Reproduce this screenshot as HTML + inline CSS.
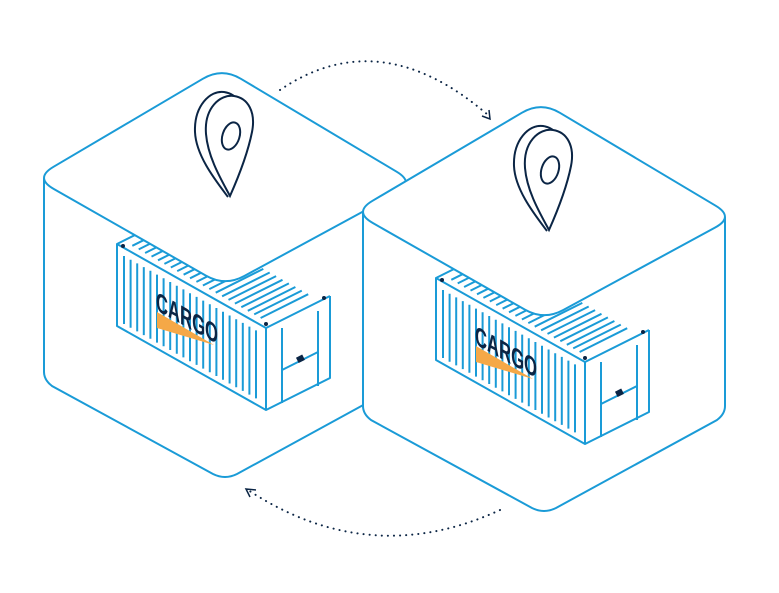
<!DOCTYPE html>
<html><head><meta charset="utf-8"><style>html,body{margin:0;padding:0;background:#fff}svg{display:block}</style></head>
<body>
<svg width="779" height="593" viewBox="0 0 779 593" xmlns="http://www.w3.org/2000/svg">
<defs>
<g id="cube">
  <path d="M203,78.7 Q222,67.5 240.9,78.8 L396.6,171.7 Q410,178 406,190 L406,372 Q406,380 398,386 L237,474 Q225,480 213,474 L52,386 Q44,380 44,372 L44,190 Q40,175 53.5,166.8 Z" fill="#fff" stroke="none"/>
  <path d="M44,178 L44,372 Q44,380 52,386 L213,474 Q225,480 237,474 L398,386 Q406,380 406,372 L406,183" fill="none" stroke="#1a9bd7" stroke-width="2"/>
  <g stroke="#1a9bd7" stroke-width="2" fill="none" stroke-linejoin="round">
    <path d="M181,212 L117,244 L266,328 L330,296 M117,244 L117,326 L266,410 L330,378 L330,296 M266,328 L266,410"/>
    <path d="M124,256v68M130.6,259.7v68M137.2,263.4v68M143.8,267.1v68M150.4,270.8v68M157,274.6v68M163.6,278.3v68M170.2,282v68M176.8,285.7v68M183.4,289.4v68M190,293.2v68M196.6,296.9v68M203.2,300.6v68M209.8,304.3v68M216.4,308v68M223,311.8v68M229.6,315.5v68M236.2,319.2v68M242.8,322.9v68M249.4,326.6v68M256,330.4v68"/>
    <path d="M132.3,245.8l47.6,-23.8M138.7,249.4l47.6,-23.8M145.1,253l47.6,-23.8M151.5,256.6l47.6,-23.8M158,260.3l47.6,-23.8M164.4,263.9l47.6,-23.8M170.8,267.5l47.6,-23.8M177.2,271.1l47.6,-23.8M183.6,274.7l47.6,-23.8M190,278.3l47.6,-23.8M196.4,281.9l47.6,-23.8M202.9,285.5l47.6,-23.8M209.3,289.1l47.6,-23.8M215.7,292.7l47.6,-23.8M222.1,296.3l47.6,-23.8M228.5,299.9l47.6,-23.8M234.9,303.6l47.6,-23.8M241.3,307.2l47.6,-23.8M247.8,310.8l47.6,-23.8M254.2,314.4l47.6,-23.8M260.6,318l47.6,-23.8"/>
    <path d="M282,328V403M318,311V386M282,370L318,352"/>
  </g>
  <rect x="297" y="356" width="7" height="6" fill="#0b2545" transform="rotate(-27 300 359)"/>
  <circle cx="123" cy="246" r="2" fill="#0b2545"/><circle cx="266" cy="324" r="2" fill="#0b2545"/><circle cx="324" cy="298" r="2" fill="#0b2545"/>
  <polygon points="157,312 214,345 157,328" fill="#f5a847"/>
  <text transform="translate(156,310) skewY(29)" font-family="Liberation Sans, sans-serif" font-weight="bold" font-size="27" fill="#0b2545" textLength="62" lengthAdjust="spacingAndGlyphs">CARGO</text>
  <path d="M203,78.7 Q222,67.5 240.9,78.8 L396.6,171.7 Q415.5,183 396.2,193.5 L244.3,276 Q225,286.5 205.9,275.6 L53.6,188.9 Q34.5,178 53.5,166.8 Z" fill="#fff" stroke="#1a9bd7" stroke-width="2"/>
  <g transform="translate(230,196)" fill="#fff" stroke="#0b2545" stroke-width="2">
    <path d="M-2,1 C-14,-15 -34,-40 -35,-64 C-36,-90 -20,-106 -6,-104 C8,-102 14,-90 12,-70"/>
    <path d="M0,0 C-8,-15 -22,-38 -24,-62 C-26,-88 -10,-102 4,-100 C18,-98 26,-84 22,-64 C18,-44 8,-18 0,0Z"/>
    <ellipse cx="1" cy="-60" rx="8.5" ry="14" transform="rotate(18 1 -60)"/>
  </g>
</g>
</defs>
<use href="#cube"/>
<use href="#cube" transform="translate(319,34)"/>
<path d="M280,90 Q380,22 488,115" fill="none" stroke="#0b2545" stroke-width="2" stroke-dasharray="0.1 6" stroke-linecap="round"/>
<path d="M482,116 L490,119 L489,110" fill="none" stroke="#0b2545" stroke-width="1.5"/>
<path d="M500,510 Q370,570 248,490" fill="none" stroke="#0b2545" stroke-width="2" stroke-dasharray="0.1 6" stroke-linecap="round"/>
<path d="M256,490 L246,489 L250,497" fill="none" stroke="#0b2545" stroke-width="1.5"/>
</svg>
</body></html>
